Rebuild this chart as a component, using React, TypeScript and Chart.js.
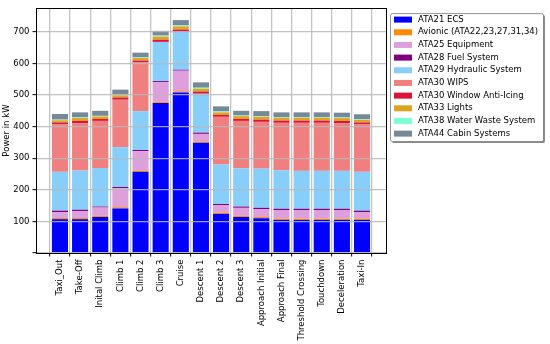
import React, { useEffect, useRef } from "react";
import { Chart, registerables } from "chart.js";

Chart.register(...registerables);

const phases = [
  "Taxi_Out", "Take-Off", "Inital Climb", "Climb 1", "Climb 2", "Climb 3", "Cruise", "Descent 1",
  "Descent 2", "Descent 3", "Approach Initial", "Approach Final", "Threshold Crossing", "Touchdown",
  "Deceleration", "Taxi-In",
];

const ata21Ecs = [107, 107, 114, 141, 257, 475, 508, 349, 124, 114, 110, 105, 105, 105, 105, 105];
const avionic = [4, 4, 4, 4, 4, 4, 4, 4, 4, 4, 4, 4, 4, 4, 4, 4];
const ata25Equipment = [18, 22, 26, 60, 61, 62, 65, 24, 23, 25, 25, 27, 27, 27, 27, 20];
const ata28Fuel = [5, 4, 3, 4, 4, 3, 3, 4, 4, 4, 4, 4, 4, 4, 4, 5];
const ata29Hydraulic = [123, 124, 122, 126, 123, 124, 120, 123, 125, 121, 124, 122, 120, 120, 120, 123];
const ata30Wips = [150, 150, 149, 150, 154, 0, 0, 0, 151, 150, 148, 150, 152, 152, 151, 150];
const ata30Window = [6, 7, 6, 7, 6, 7, 7, 7, 6, 6, 7, 7, 7, 7, 7, 6];
const ata33Lights = [7, 9, 8, 7, 8, 10, 10, 9, 8, 9, 9, 9, 9, 9, 9, 8];
const ata38Water = [2, 2, 2, 2, 2, 3, 3, 3, 3, 2, 2, 2, 2, 2, 2, 2];
const ata44Cabin = [18, 16, 16, 16, 15, 15, 17, 17, 16, 15, 16, 15, 15, 15, 15, 16];

const seriesLabels = [
  "ATA21 ECS",
  "Avionic (ATA22,23,27,31,34)",
  "ATA25 Equipment",
  "ATA28 Fuel System",
  "ATA29 Hydraulic System",
  "ATA30 WIPS",
  "ATA30 Window Anti-Icing",
  "ATA33 Lights",
  "ATA38 Water Waste System",
  "ATA44 Cabin Systems",
];
const seriesColors = [
  "#0000ff", "#ff8c00", "#dda0dd", "#800080", "#87cefa",
  "#f08080", "#dc143c", "#daa520", "#7fffd4", "#778899",
];
const seriesValues = [
  ata21Ecs, avionic, ata25Equipment, ata28Fuel, ata29Hydraulic,
  ata30Wips, ata30Window, ata33Lights, ata38Water, ata44Cabin,
];

const yTicks = [100, 200, 300, 400, 500, 600, 700];

const FONT = '"DejaVu Sans", sans-serif';

function roundRect(ctx: CanvasRenderingContext2D, x: number, y: number, w: number, h: number, r: number) {
  ctx.beginPath();
  ctx.moveTo(x + r, y);
  ctx.lineTo(x + w - r, y);
  ctx.arcTo(x + w, y, x + w, y + r, r);
  ctx.lineTo(x + w, y + h - r);
  ctx.arcTo(x + w, y + h, x + w - r, y + h, r);
  ctx.lineTo(x + r, y + h);
  ctx.arcTo(x, y + h, x, y + h - r, r);
  ctx.lineTo(x, y + r);
  ctx.arcTo(x, y, x + r, y, r);
  ctx.closePath();
}

const framePlugin = {
  id: "frame",
  afterDraw(chart: any) {
    const { ctx, chartArea } = chart;
    ctx.save();
    ctx.strokeStyle = "#000";
    ctx.lineWidth = 1;
    ctx.strokeRect(
      Math.round(chartArea.left) + 0.5,
      Math.round(chartArea.top) + 0.5,
      Math.round(chartArea.right - chartArea.left),
      Math.round(chartArea.bottom - chartArea.top)
    );
    ctx.restore();
  },
};

const legendPlugin = {
  id: "boxLegend",
  afterDraw(chart: any) {
    const { ctx, chartArea } = chart;
    const x0 = chartArea.right + 4;
    const y0 = chartArea.top + 5;
    const w = 153;
    const h = 128;
    ctx.save();
    ctx.fillStyle = "rgba(0,0,0,0.45)";
    roundRect(ctx, x0 + 2, y0 + 2, w, h, 2);
    ctx.fill();
    ctx.fillStyle = "#fff";
    roundRect(ctx, x0 + 0.5, y0 + 0.5, w, h, 2);
    ctx.fill();
    ctx.strokeStyle = "#777";
    ctx.lineWidth = 0.8;
    ctx.stroke();
    ctx.font = `8.5px ${FONT}`;
    ctx.textBaseline = "middle";
    ctx.textAlign = "left";
    chart.data.datasets.forEach((ds: any, i: number) => {
      const cy = y0 + 6.5 + i * 12.67;
      ctx.fillStyle = ds.backgroundColor;
      ctx.fillRect(x0 + 4, cy - 3, 18, 6);
      ctx.fillStyle = "#000";
      ctx.fillText(ds.label, x0 + 28, cy);
    });
    ctx.restore();
  },
};

export default function App() {
  const canvasRef = useRef<HTMLCanvasElement | null>(null);

  useEffect(() => {
    const canvas = canvasRef.current;
    if (!canvas) return;
    const datasets = seriesLabels.map((label, s) => ({
      label,
      data: seriesValues[s].map((v, i) => ({ x: i, y: v })),
      backgroundColor: seriesColors[s],
      borderWidth: 0,
      barPercentage: 0.8,
      categoryPercentage: 1,
    }));
    const chart = new Chart(canvas, {
      type: "bar",
      data: { datasets },
      plugins: [framePlugin, legendPlugin],
      options: {
        responsive: false,
        animation: false,
        layout: { padding: { top: 5, right: 164, left: 0, bottom: 0 } },
        plugins: {
          legend: { display: false },
          tooltip: { enabled: false },
        },
        scales: {
          x: {
            type: "linear",
            stacked: true,
            min: -1.19,
            max: 16.19,
            offset: false,
            afterFit: (scale: any) => {
              scale.height = 91;
            },
            afterBuildTicks: (scale: any) => {
              scale.ticks = phases.map((_, i) => ({ value: i }));
            },
            ticks: {
              stepSize: 1,
              includeBounds: false,
              autoSkip: false,
              minRotation: 90,
              maxRotation: 90,
              padding: 3,
              color: "#000",
              font: { family: FONT, size: 8.5 },
              callback: (v: any) => phases[v as number] ?? "",
            },
            grid: {
              z: 1,
              color: "rgba(185,185,185,0.85)",
              lineWidth: 1.3,
              tickColor: "#000",
              tickLength: 3.5,
              tickWidth: 1,
            },
            border: { display: false },
          },
          y: {
            stacked: true,
            min: 0,
            max: 775,
            afterFit: (scale: any) => {
              scale.width = 36;
            },
            afterBuildTicks: (scale: any) => {
              scale.ticks = [{ value: 0 }, ...yTicks.map((v) => ({ value: v }))];
            },
            ticks: {
              stepSize: 100,
              includeBounds: false,
              padding: 3,
              color: "#000",
              font: { family: FONT, size: 8.5 },
              callback: (v: any) => (v === 0 ? "" : String(v)),
            },
            grid: {
              z: 1,
              color: "rgba(185,185,185,0.85)",
              lineWidth: 1.3,
              tickColor: "#000",
              tickLength: 3.5,
              tickWidth: 1,
            },
            border: { display: false },
            title: {
              display: true,
              text: "Power in kW",
              color: "#000",
              font: { family: FONT, size: 8.5 },
              padding: { top: 2, bottom: 0 },
            },
          },
        },
      },
    });
    return () => chart.destroy();
  }, []);

  return (
    <div style={{ position: "fixed", left: 0, top: 0, width: 550, height: 344, background: "#fff" }}>
      <canvas ref={canvasRef} width={550} height={344} style={{ display: "block" }} />
    </div>
  );
}
